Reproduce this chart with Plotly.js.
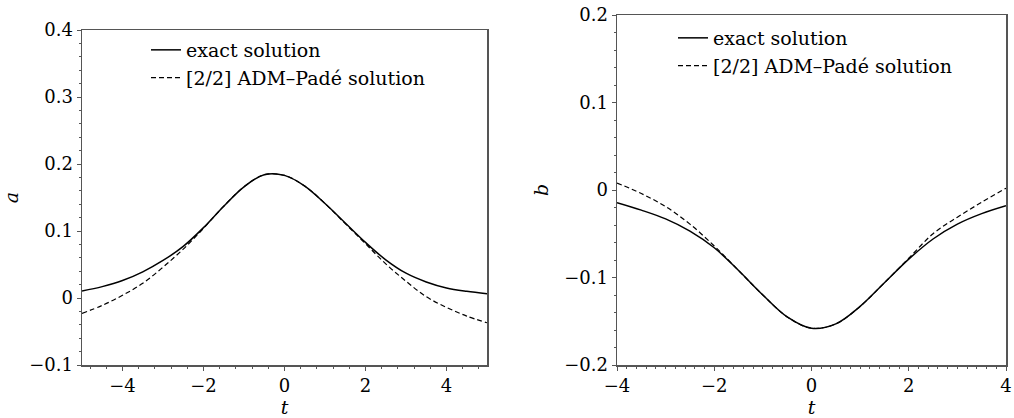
<!DOCTYPE html>
<html>
<head>
<meta charset="utf-8">
<script src="https://cdn.plot.ly/plotly-3.0.1.min.js"></script>
<style>html,body{margin:0;padding:0;background:#fff;}#chart{width:1014px;height:418px;}</style>
</head>
<body>
<div id="chart"></div>
<script>
// Left panel (a)
const tA = [-5, -4.5, -4, -3.5, -3, -2.5, -2, -1.5, -1, -0.5, 0, 0.5, 1, 1.5, 2, 2.5, 3, 3.5, 4, 4.5, 5];
const aExact = [0.0105, 0.017, 0.026, 0.039, 0.056, 0.077, 0.105, 0.137, 0.166, 0.184, 0.183, 0.167, 0.141, 0.112, 0.083, 0.057, 0.037, 0.024, 0.015, 0.010, 0.0065];
const aPade  = [-0.023, -0.011, 0.004, 0.022, 0.046, 0.073, 0.104, 0.137, 0.166, 0.184, 0.183, 0.167, 0.141, 0.111, 0.081, 0.051, 0.025, 0.002, -0.014, -0.027, -0.037];
// Right panel (b)
const tB = [-4, -3.5, -3, -2.5, -2, -1.5, -1, -0.5, 0, 0.5, 1, 1.5, 2, 2.5, 3, 3.5, 4];
const bExact = [-0.0145, -0.023, -0.033, -0.047, -0.066, -0.092, -0.120, -0.145, -0.158, -0.153, -0.133, -0.106, -0.079, -0.056, -0.039, -0.027, -0.018];
const bPade  = [0.008, -0.004, -0.019, -0.039, -0.064, -0.092, -0.120, -0.145, -0.158, -0.153, -0.133, -0.106, -0.078, -0.050, -0.031, -0.014, 0.002];
const seriesNames = ["exact solution", "[2/2] ADM\u2013Pad\u00e9 solution"];
const xTitle = "t", yTitleA = "a", yTitleB = "b";

const FONT = "'DejaVu Serif', 'Liberation Serif', serif";
const lineW = 1.5;
const traces = [
  {x: tA, y: aExact, name: seriesNames[0], mode: "lines", line: {color: "#000", width: lineW, shape: "spline", smoothing: 1}, xaxis: "x", yaxis: "y", legend: "legend"},
  {x: tA, y: aPade, name: seriesNames[1], mode: "lines", line: {color: "#000", width: 1.2, dash: "5px,3px", shape: "spline", smoothing: 1}, xaxis: "x", yaxis: "y", legend: "legend"},
  {x: tB, y: bExact, name: seriesNames[0], mode: "lines", line: {color: "#000", width: lineW, shape: "spline", smoothing: 1}, xaxis: "x2", yaxis: "y2", legend: "legend2"},
  {x: tB, y: bPade, name: seriesNames[1], mode: "lines", line: {color: "#000", width: 1.2, dash: "5px,3px", shape: "spline", smoothing: 1}, xaxis: "x2", yaxis: "y2", legend: "legend2"}
];

const minorBase = {ticks: "outside", ticklen: 2, tickwidth: 1, tickcolor: "#555"};
const titleFont = {family: FONT, size: 19, style: "italic", color: "#000"};
const tickFont = {family: FONT, size: 18, color: "#000"};
function makeAxis(domain, range, dtick, minorDtick, anchor, titleText, standoff, fmt) {
  const ax = {
    domain: domain, range: range, dtick: dtick, tick0: 0, anchor: anchor,
    tickmode: "linear",
    showgrid: false, zeroline: false, showline: true, mirror: true,
    linecolor: "#555", linewidth: 1.5,
    ticks: "outside", ticklen: 4, tickwidth: 1, tickcolor: "#555",
    tickfont: tickFont,
    minor: Object.assign({dtick: minorDtick}, minorBase),
    title: {text: titleText, font: titleFont, standoff: standoff},
    fixedrange: true
  };
  if (fmt) ax.tickformat = fmt;
  return ax;
}
const legendBase = {
  bgcolor: "rgba(0,0,0,0)", borderwidth: 0,
  font: {family: FONT, size: 19, color: "#000"},
  itemwidth: 30, tracegroupgap: 0,
  xanchor: "left", yanchor: "top"
};

const layout = {
  width: 1014, height: 418,
  margin: {l: 0, r: 0, t: 0, b: 0},
  paper_bgcolor: "#fff", plot_bgcolor: "#fff",
  font: {family: FONT, size: 18, color: "#000"},
  showlegend: true,
  xaxis: makeAxis([82/1014, 487/1014], [-5, 5], 2, 0.4, "y", xTitle, 5),
  yaxis: makeAxis([53/418, 388/418], [-0.1, 0.4], 0.1, 0.02, "x", yTitleA, 10, ".1~f"),
  xaxis2: makeAxis([617/1014, 1006/1014], [-4, 4], 2, 0.2, "y2", xTitle, 5),
  yaxis2: makeAxis([53/418, 403/418], [-0.2, 0.2], 0.1, 0.02, "x2", yTitleB, 10, ".1~f"),
  legend: Object.assign({x: 146/1014, y: 1 - 31/418}, legendBase),
  legend2: Object.assign({x: 673/1014, y: 1 - 19/418}, legendBase)
};

Plotly.newPlot("chart", traces, layout, {staticPlot: true, displayModeBar: false});
</script>
</body>
</html>
